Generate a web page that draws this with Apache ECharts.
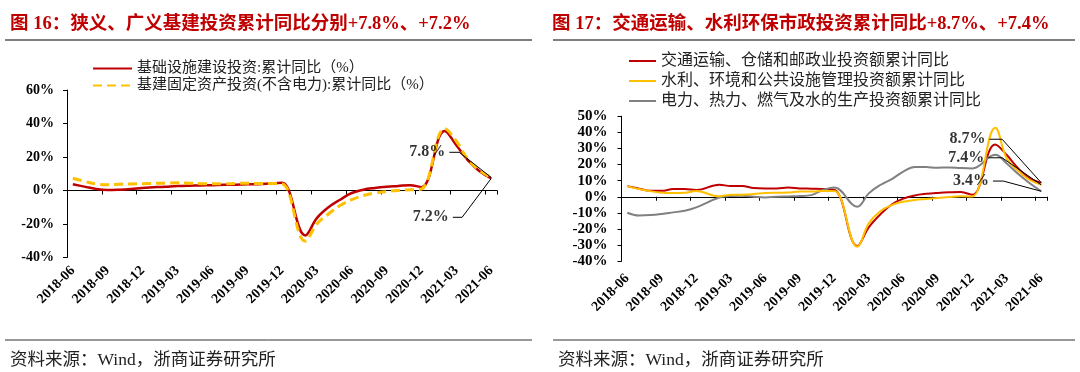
<!DOCTYPE html>
<html><head><meta charset="utf-8">
<script src="https://cdn.jsdelivr.net/npm/echarts@6/dist/echarts.min.js"></script>
<style>html,body{margin:0;padding:0;background:#fff}#c{width:1080px;height:372px}</style>
</head><body><div id="c"></div>
<script>
// ---- data ----
const categories = ['2018-06','2018-07','2018-08','2018-09','2018-10','2018-11','2018-12','2019-01','2019-02','2019-03','2019-04','2019-05','2019-06','2019-07','2019-08','2019-09','2019-10','2019-11','2019-12','2020-01','2020-02','2020-03','2020-04','2020-05','2020-06','2020-07','2020-08','2020-09','2020-10','2020-11','2020-12','2021-01','2021-02','2021-03','2021-04','2021-05','2021-06'];

// Figure 16
const infraBroad = [3.7,2.3,0.9,0.3,0.5,0.9,1.5,null,2.3,2.7,2.9,3.0,3.2,3.4,3.5,3.7,3.8,4.2,4.6,null,-26.8,-16.5,-10.0,-5.5,-1.5,0.5,1.5,2.2,2.7,3.2,2.0,null,35.5,27.0,18.0,11.5,7.2];
const infraNarrow = [7.3,5.5,3.9,3.5,3.8,3.9,4.1,null,4.4,4.6,4.4,4.1,4.1,4.0,4.2,4.3,4.2,4.2,4.0,null,-30.2,-20.0,-14.0,-9.0,-5.5,-3.0,-1.5,-0.6,0.0,0.4,0.9,null,37.0,29.5,18.5,12.0,7.8];
const yTicksLeft = {min: -40, max: 60, interval: 20};

// Figure 17
const transport = [6.6,5.1,3.7,3.7,4.8,4.8,4.2,null,7.5,6.6,6.6,5.4,5.2,5.2,5.8,5.2,5.0,4.8,4.4,null,-30.5,-19.0,-11.0,-4.8,-1.2,0.8,1.8,2.4,2.8,3.0,1.2,null,32.5,25.9,17.6,11.4,8.7];
const waterEnv = [6.6,4.8,3.5,2.5,2.3,2.5,3.5,null,0.3,1.2,1.3,1.7,2.3,2.5,2.6,3.3,3.3,3.6,3.6,null,-31.0,-16.5,-9.0,-5.2,-3.1,-2.0,-1.4,-0.8,-0.2,0.3,0.2,null,42.9,23.8,16.0,10.4,7.4];
const power = [-9.9,-11.6,-11.4,-10.7,-9.7,-8.7,-6.6,null,-0.5,0.5,0.6,0.0,-0.4,0.0,0.2,0.4,1.0,4.2,5.8,null,-6.2,2.1,7.3,11.0,15.6,18.5,18.4,18.0,18.2,17.8,17.6,null,26.0,20.7,14.1,8.4,3.4];
const yTicksRight = {min: -40, max: 50, interval: 10};

// annotation leaders: [categoryIndex, value]
const leader78 = [[32.4,22.8],[33.25,22.8],[36,7.8]];
const leader72 = [[32.7,-16.0],[33.5,-16.0],[36,7.2]];
const leader87 = [[31.5,35.7],[32.6,35.7],[36,8.7]];
const leader74 = [[31.4,24.2],[32.6,24.2],[36,7.4]];
const leader34 = [[31.8,9.75],[32.7,9.75],[36,3.4]];

const names = {
  broad: '基础设施建设投资:累计同比（%）',
  narrow: '基建固定资产投资(不含电力):累计同比（%）',
  transport: '交通运输、仓储和邮政业投资额累计同比',
  water: '水利、环境和公共设施管理投资额累计同比',
  power: '电力、热力、燃气及水的生产投资额累计同比'
};

const SERIF = "'Liberation Serif','Noto Sans CJK SC',serif";
const RED = '#C00000', YEL = '#FFC000', GRAY = '#808080';

function catAxes(gi, n) {
  return [
    { gridIndex: gi, type: 'category', data: categories, position: 'bottom', boundaryGap: true,
      axisLine: {show: false, onZero: false}, axisTick: {show: false},
      axisLabel: {interval: 2, rotate: 45, margin: gi === 0 ? 11 : 15, color: '#000', fontFamily: SERIF, fontWeight: 'bold', fontSize: 14} },
    { gridIndex: gi, type: 'category', data: categories, position: 'top', boundaryGap: true,
      axisLine: {show: true, onZero: true, lineStyle: {color: '#000', width: 1}},
      axisTick: {show: true, inside: true, interval: 2, length: 4, lineStyle: {color: '#000'}},
      axisLabel: {show: false} },
    { gridIndex: gi, type: 'value', min: -0.5, max: n - 0.5, show: false }
  ];
}
function yAx(gi, t, fs, margin) {
  return { gridIndex: gi, type: 'value', min: t.min, max: t.max, interval: t.interval,
    axisLine: {show: true, onZero: false, lineStyle: {color: '#000'}},
    axisTick: {show: true, inside: false, length: 4, lineStyle: {color: '#000'}},
    splitLine: {show: false},
    axisLabel: {formatter: '{value}%', color: '#000', fontFamily: SERIF, fontWeight: 'bold', fontSize: fs, margin: margin} };
}
function leaderSeries(xi, yi, pts, text) {
  return [
    { type: 'line', xAxisIndex: xi, yAxisIndex: yi, data: pts, symbol: 'none', silent: true, z: 5,
      lineStyle: {color: '#000', width: 1}, smooth: false },
    { type: 'scatter', xAxisIndex: xi, yAxisIndex: yi, data: [pts[0]], symbolSize: 2, silent: true,
      itemStyle: {color: 'rgba(0,0,0,0)'}, z: 6,
      label: {show: true, position: 'left', distance: 3, formatter: text, color: '#000',
        fontFamily: SERIF, fontWeight: 'bold', fontSize: 16} }
  ];
}

const n = categories.length;
const legendCommon = { orient: 'vertical', padding: 0, selectedMode: false, itemStyle: {opacity: 0} };
const option = {
  animation: false,
  backgroundColor: '#fff',
  title: [
    { text: '图 16：狭义、广义基建投资累计同比分别+7.8%、+7.2%', left: 5, top: 10,
      textStyle: {color: RED, fontFamily: SERIF, fontWeight: 'bold', fontSize: 18.5} },
    { text: '图 17：交通运输、水利环保市政投资累计同比+8.7%、+7.4%', left: 547, top: 10,
      textStyle: {color: RED, fontFamily: SERIF, fontWeight: 'bold', fontSize: 18.5} },
    { text: '资料来源：Wind，浙商证券研究所', left: 5, top: 347,
      textStyle: {color: '#222', fontFamily: SERIF, fontWeight: 'normal', fontSize: 17.5} },
    { text: '资料来源：Wind，浙商证券研究所', left: 553, top: 347,
      textStyle: {color: '#222', fontFamily: SERIF, fontWeight: 'normal', fontSize: 17.5} }
  ],
  graphic: [
    {type: 'line', shape: {x1: 5, y1: 40, x2: 532, y2: 40}, style: {stroke: '#7f7f7f', lineWidth: 2}},
    {type: 'line', shape: {x1: 553, y1: 40, x2: 1075, y2: 40}, style: {stroke: '#7f7f7f', lineWidth: 2}},
    {type: 'line', shape: {x1: 5, y1: 340, x2: 532, y2: 340}, style: {stroke: '#333', lineWidth: 1}},
    {type: 'line', shape: {x1: 553, y1: 340, x2: 1075, y2: 340}, style: {stroke: '#333', lineWidth: 1}}
  ],
  legend: [
    Object.assign({ data: [names.broad, names.narrow], left: 92, top: 61,
      itemWidth: 39, itemHeight: 14, itemGap: 2,
      textStyle: {color: '#222', fontFamily: SERIF, fontSize: 15} }, legendCommon),
    Object.assign({ data: [names.transport, names.water, names.power], left: 628, top: 53,
      itemWidth: 27, itemHeight: 14, itemGap: 4,
      textStyle: {color: '#222', fontFamily: SERIF, fontSize: 16} }, legendCommon)
  ],
  grid: [
    {left: 67, top: 90, width: 430, height: 167.5, outerBoundsMode: 'none'},
    {left: 621.5, top: 116.2, width: 425.5, height: 145, outerBoundsMode: 'none'}
  ],
  xAxis: [...catAxes(0, n), ...catAxes(1, n)],
  yAxis: [yAx(0, yTicksLeft, 14, 13), yAx(1, yTicksRight, 15, 14)],
  series: [
    { name: names.broad, type: 'line', xAxisIndex: 0, yAxisIndex: 0, data: infraBroad, smooth: 0.4,
      connectNulls: true, symbol: 'none', lineStyle: {color: RED, width: 2.5}, itemStyle: {color: RED}, z: 3 },
    { name: names.narrow, type: 'line', xAxisIndex: 0, yAxisIndex: 0, data: infraNarrow, smooth: 0.4,
      connectNulls: true, symbol: 'none', lineStyle: {color: YEL, width: 3, type: [9, 5]}, itemStyle: {color: YEL}, z: 4 },
    ...leaderSeries(2, 0, leader78, '7.8%'),
    ...leaderSeries(2, 0, leader72, '7.2%'),
    { name: names.transport, type: 'line', xAxisIndex: 3, yAxisIndex: 1, data: transport, smooth: 0.4,
      connectNulls: true, symbol: 'none', lineStyle: {color: RED, width: 2}, itemStyle: {color: RED}, z: 3 },
    { name: names.water, type: 'line', xAxisIndex: 3, yAxisIndex: 1, data: waterEnv, smooth: 0.4,
      connectNulls: true, symbol: 'none', lineStyle: {color: YEL, width: 2}, itemStyle: {color: YEL}, z: 4 },
    { name: names.power, type: 'line', xAxisIndex: 3, yAxisIndex: 1, data: power, smooth: 0.4,
      connectNulls: true, symbol: 'none', lineStyle: {color: GRAY, width: 2}, itemStyle: {color: GRAY}, z: 3 },
    ...leaderSeries(5, 1, leader87, '8.7%'),
    ...leaderSeries(5, 1, leader74, '7.4%'),
    ...leaderSeries(5, 1, leader34, '3.4%')
  ]
};
const chart = echarts.init(document.getElementById('c'), null, {renderer: 'canvas'});
chart.setOption(option);
</script></body></html>
